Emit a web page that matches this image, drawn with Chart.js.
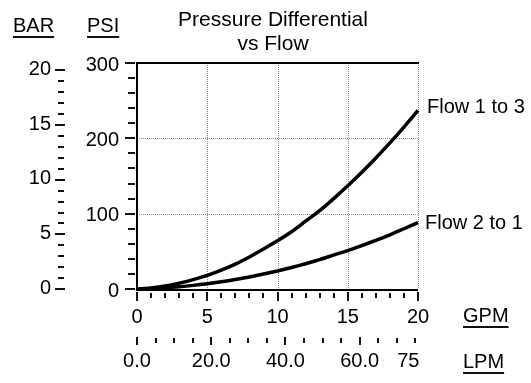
<!DOCTYPE html>
<html>
<head>
<meta charset="utf-8">
<script src="https://cdn.jsdelivr.net/npm/chart.js@4"></script>
<style>
html,body{margin:0;padding:0;background:#fff;}
#wrap{width:531px;height:383px;position:relative;}
</style>
</head>
<body>
<div id="wrap"><canvas id="c" width="531" height="383"></canvas></div>
<script>
// ---- data ----
const gpm      = [0,1,2,3,4,5,6,7,8,9,10,11,12,13,14,15,16,17,18,19,20];
const flow1to3 = [0,1.5,4,7.8,12.5,18,25,33,42.5,53,64,76,90,104,120,137,155,174,194,215,237];
const flow2to1 = [0,0.6,1.6,3,4.8,7,9.6,12.6,16,19.8,24,28.6,33.6,39,45,51,57.6,64.6,72,80,88];
const seriesNames = ["Flow 1 to 3","Flow 2 to 1"];
const psiTicks = [0,100,200,300];
const barTicks = [0,5,10,15,20];
const gpmTicks = [0,5,10,15,20];
const lpmTickValues = [0,20,40,60,75];
const lpmTickLabels = ["0.0","20.0","40.0","60.0","75"];
const titleLines = ["Pressure Differential","vs Flow"];

const PSI_PER_BAR = 14.5038;
const LPM_PER_GPM = 3.78541;
const FONT = '"Liberation Sans", Arial, Helvetica, sans-serif';

const overlay = {
  id:'overlay',
  beforeDatasetsDraw(chart){
    const ctx = chart.ctx, x = chart.scales.x, y = chart.scales.y;
    const L = x.getPixelForValue(0), R = x.getPixelForValue(20);
    const T = y.getPixelForValue(300), B = y.getPixelForValue(0);
    ctx.save();
    ctx.strokeStyle = '#8a8a8a'; ctx.lineWidth = 1; ctx.setLineDash([1,1]);
    [5,10,15,20].forEach(v=>{
      const px = Math.round(x.getPixelForValue(v))+0.5;
      ctx.beginPath(); ctx.moveTo(px,T); ctx.lineTo(px,B); ctx.stroke();
    });
    [100,200].forEach(v=>{
      const py = Math.round(y.getPixelForValue(v))+0.5;
      ctx.beginPath(); ctx.moveTo(L,py); ctx.lineTo(R,py); ctx.stroke();
    });
    ctx.setLineDash([]);
    ctx.strokeStyle = '#000'; ctx.lineWidth = 2;
    ctx.beginPath(); ctx.moveTo(L, T); ctx.lineTo(R+1, T); ctx.stroke();
    ctx.beginPath(); ctx.moveTo(L, T-1); ctx.lineTo(L, B+1); ctx.lineTo(R, B+1); ctx.stroke();
    ctx.restore();
  },
  afterDatasetsDraw(chart){
    const ctx = chart.ctx, s = chart.scales;
    ctx.save();
    ctx.fillStyle = '#000'; ctx.strokeStyle = '#111'; ctx.lineWidth = 2;
    ctx.font = '20px ' + FONT;
    const hline=(x1,x2,yy)=>{ctx.beginPath();ctx.moveTo(x1,yy);ctx.lineTo(x2,yy);ctx.stroke();};
    const vline=(xx,y1,y2)=>{ctx.beginPath();ctx.moveTo(xx,y1);ctx.lineTo(xx,y2);ctx.stroke();};
    // PSI axis
    for(let v=0; v<=300; v+=20){
      const py = Math.round(s.y.getPixelForValue(v));
      if(v%100===0) hline(125,135,py); else hline(128,135,py);
    }
    ctx.textAlign='right'; ctx.textBaseline='middle';
    psiTicks.forEach(v=>ctx.fillText(String(v),119,s.y.getPixelForValue(v)+2));
    // BAR axis
    for(let v=0; v<=20; v++){
      const py = Math.round(s.yb.getPixelForValue(v));
      if(v%5===0) hline(55,65,py); else hline(58,64,py);
    }
    barTicks.forEach(v=>ctx.fillText(String(v),51,s.yb.getPixelForValue(v)-1));
    // GPM axis
    for(let v=0; v<=20; v++){
      const px = Math.round(s.x.getPixelForValue(v));
      if(v%5===0) vline(px,292,301); else vline(px,293,298);
    }
    ctx.textAlign='center';
    gpmTicks.forEach(v=>ctx.fillText(String(v),s.x.getPixelForValue(v),317));
    // LPM axis
    for(let v=0; v<=75; v+=5){
      const px = Math.round(s.xl.getPixelForValue(v));
      if(v%20===0 && v<=60) vline(px,337,345); else vline(px,338,343);
    }
    lpmTickValues.forEach((v,i)=>ctx.fillText(lpmTickLabels[i],s.xl.getPixelForValue(v)-(v===75?7:0),361));
    // axis unit labels (underlined)
    ctx.textAlign='left';
    const under=(t,xx,yy)=>{ctx.fillText(t,xx,yy);const w=ctx.measureText(t).width;ctx.lineWidth=2;hline(xx,xx+w,yy+11);};
    under('BAR',13,26); under('PSI',87,26);
    under('GPM',463,316); under('LPM',463,362);
    // series labels
    const lastY1 = s.y.getPixelForValue(flow1to3[flow1to3.length-1]);
    const lastY2 = s.y.getPixelForValue(flow2to1[flow2to1.length-1]);
    ctx.fillText(seriesNames[0],427,lastY1-3);
    ctx.fillText(seriesNames[1],425,lastY2+1);
    // title
    ctx.textAlign='center';
    ctx.font = '21px ' + FONT;
    ctx.fillText(titleLines[0],273,20);
    ctx.fillText(titleLines[1],273,44);
    ctx.restore();
  }
};

new Chart(document.getElementById('c'),{
  type:'line',
  data:{
    datasets:[
      {label:seriesNames[0], data:gpm.map((g,i)=>({x:g,y:flow1to3[i]})), borderColor:'#000', borderWidth:3.5, pointRadius:0, tension:0.3, clip:false, xAxisID:'x', yAxisID:'y'},
      {label:seriesNames[1], data:gpm.map((g,i)=>({x:g,y:flow2to1[i]})), borderColor:'#000', borderWidth:3.5, pointRadius:0, tension:0.3, clip:false, xAxisID:'x', yAxisID:'y'}
    ]
  },
  options:{
    responsive:false, animation:false, devicePixelRatio:1,
    layout:{padding:{left:137,top:63,right:113,bottom:94}},
    plugins:{legend:{display:false},tooltip:{enabled:false},title:{display:false}},
    scales:{
      x:{type:'linear',min:0,max:20,display:false},
      y:{type:'linear',min:0,max:300,display:false},
      xl:{type:'linear',axis:'x',position:'bottom',min:0,max:20*LPM_PER_GPM,display:false},
      yb:{type:'linear',axis:'y',position:'left',min:0,max:300/PSI_PER_BAR,display:false}
    }
  },
  plugins:[overlay]
});
</script>
</body>
</html>
